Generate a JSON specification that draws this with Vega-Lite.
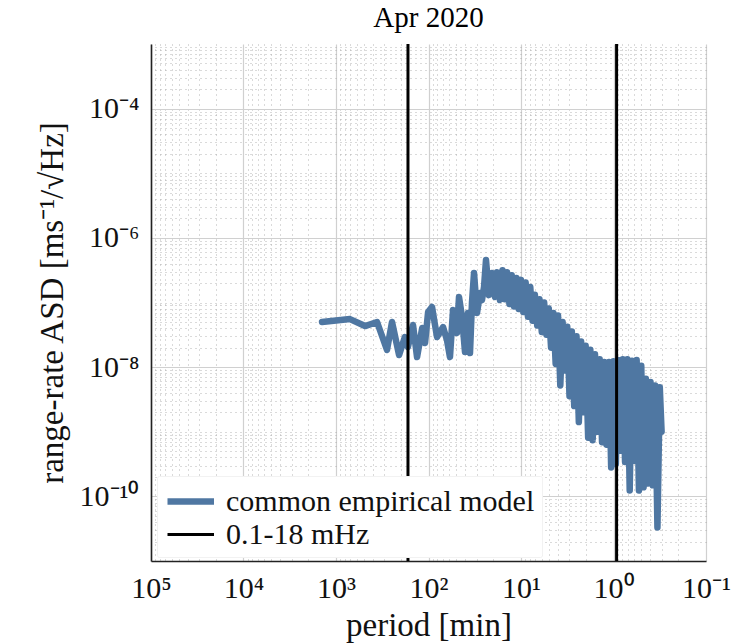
{
  "$schema": "https://vega.github.io/schema/vega-lite/v6.json",
  "width": 555,
  "height": 517,
  "autosize": {"type": "none"},
  "padding": {"left": 151, "top": 44, "right": 49, "bottom": 82},
  "background": "white",
  "title": {"text": "Apr 2020", "fontSize": 29, "font": "Liberation Serif", "fontWeight": "normal", "offset": 10, "color": "#000"},
  "datasets": {
    "model": [
      {"period": 1416, "asd": 4.99e-8, "series": "common empirical model"},
      {"period": 706, "asd": 5.54e-8, "series": "common empirical model"},
      {"period": 485, "asd": 4.32e-8, "series": "common empirical model"},
      {"period": 360, "asd": 4.99e-8, "series": "common empirical model"},
      {"period": 281, "asd": 1.84e-8, "series": "common empirical model"},
      {"period": 248, "asd": 4.99e-8, "series": "common empirical model"},
      {"period": 208, "asd": 1.54e-8, "series": "common empirical model"},
      {"period": 180, "asd": 2.92e-8, "series": "common empirical model"},
      {"period": 167, "asd": 2.04e-8, "series": "common empirical model"},
      {"period": 147, "asd": 4.48e-8, "series": "common empirical model"},
      {"period": 133, "asd": 1.43e-8, "series": "common empirical model"},
      {"period": 117, "asd": 4.03e-8, "series": "common empirical model"},
      {"period": 109, "asd": 2.36e-8, "series": "common empirical model"},
      {"period": 101, "asd": 7.1e-8, "series": "common empirical model"},
      {"period": 91.6, "asd": 8.5e-8, "series": "common empirical model"},
      {"period": 80.9, "asd": 2.92e-8, "series": "common empirical model"},
      {"period": 69.7, "asd": 4.17e-8, "series": "common empirical model"},
      {"period": 63.1, "asd": 2.62e-8, "series": "common empirical model"},
      {"period": 58.6, "asd": 1.43e-8, "series": "common empirical model"},
      {"period": 54.3, "asd": 7.65e-8, "series": "common empirical model"},
      {"period": 49.2, "asd": 3.37e-8, "series": "common empirical model"},
      {"period": 46.8, "asd": 1.22e-7, "series": "common empirical model"},
      {"period": 43.4, "asd": 5.95e-8, "series": "common empirical model"},
      {"period": 40.3, "asd": 1.71e-8, "series": "common empirical model"},
      {"period": 37.4, "asd": 6.88e-8, "series": "common empirical model"},
      {"period": 35.6, "asd": 1.65e-8, "series": "common empirical model"},
      {"period": 33.9, "asd": 9.8e-8, "series": "common empirical model"},
      {"period": 32.2, "asd": 2.87e-7, "series": "common empirical model"},
      {"period": 29.9, "asd": 6.88e-8, "series": "common empirical model"},
      {"period": 27.7, "asd": 1.4e-7, "series": "common empirical model"},
      {"period": 26.4, "asd": 1.09e-7, "series": "common empirical model"},
      {"period": 25.1, "asd": 1.74e-7, "series": "common empirical model"},
      {"period": 23.9, "asd": 4.56e-7, "series": "common empirical model"},
      {"period": 22.2, "asd": 1.3e-7, "series": "common empirical model"},
      {"period": 20.6, "asd": 2.87e-7, "series": "common empirical model"},
      {"period": 19.1, "asd": 1.22e-7, "series": "common empirical model"},
      {"period": 18.2, "asd": 2.95e-7, "series": "common empirical model"},
      {"period": 16.9, "asd": 1.09e-7, "series": "common empirical model"},
      {"period": 15.85, "asd": 3.16e-7, "series": "common empirical model"},
      {"period": 14.96, "asd": 1.12e-7, "series": "common empirical model"},
      {"period": 14.13, "asd": 2.95e-7, "series": "common empirical model"},
      {"period": 13.34, "asd": 9.5e-8, "series": "common empirical model"},
      {"period": 12.59, "asd": 2.63e-7, "series": "common empirical model"},
      {"period": 11.89, "asd": 8.7e-8, "series": "common empirical model"},
      {"period": 11.22, "asd": 2.4e-7, "series": "common empirical model"},
      {"period": 10.59, "asd": 7.9e-8, "series": "common empirical model"},
      {"period": 10.0, "asd": 2.24e-7, "series": "common empirical model"},
      {"period": 9.44, "asd": 7.1e-8, "series": "common empirical model"},
      {"period": 8.91, "asd": 2.04e-7, "series": "common empirical model"},
      {"period": 8.41, "asd": 6.0e-8, "series": "common empirical model"},
      {"period": 7.94, "asd": 1.74e-7, "series": "common empirical model"},
      {"period": 7.5, "asd": 5.2e-8, "series": "common empirical model"},
      {"period": 7.08, "asd": 1.32e-7, "series": "common empirical model"},
      {"period": 6.68, "asd": 4.4e-8, "series": "common empirical model"},
      {"period": 6.31, "asd": 1.12e-7, "series": "common empirical model"},
      {"period": 5.96, "asd": 3.5e-8, "series": "common empirical model"},
      {"period": 5.62, "asd": 1.0e-7, "series": "common empirical model"},
      {"period": 5.31, "asd": 3.16e-8, "series": "common empirical model"},
      {"period": 5.01, "asd": 8.1e-8, "series": "common empirical model"},
      {"period": 4.73, "asd": 2.0e-8, "series": "common empirical model"},
      {"period": 4.47, "asd": 6.9e-8, "series": "common empirical model"},
      {"period": 4.22, "asd": 1.12e-8, "series": "common empirical model"},
      {"period": 3.98, "asd": 6.3e-8, "series": "common empirical model"},
      {"period": 3.76, "asd": 5.2e-9, "series": "common empirical model"},
      {"period": 3.55, "asd": 5.0e-8, "series": "common empirical model"},
      {"period": 3.35, "asd": 8.9e-9, "series": "common empirical model"},
      {"period": 3.16, "asd": 4.2e-8, "series": "common empirical model"},
      {"period": 2.99, "asd": 3.55e-9, "series": "common empirical model"},
      {"period": 2.82, "asd": 3.55e-8, "series": "common empirical model"},
      {"period": 2.66, "asd": 2.5e-9, "series": "common empirical model"},
      {"period": 2.51, "asd": 3.0e-8, "series": "common empirical model"},
      {"period": 2.37, "asd": 1.41e-9, "series": "common empirical model"},
      {"period": 2.24, "asd": 2.5e-8, "series": "common empirical model"},
      {"period": 2.11, "asd": 2.0e-9, "series": "common empirical model"},
      {"period": 2.0, "asd": 2.14e-8, "series": "common empirical model"},
      {"period": 1.88, "asd": 8.1e-10, "series": "common empirical model"},
      {"period": 1.78, "asd": 1.86e-8, "series": "common empirical model"},
      {"period": 1.68, "asd": 7.4e-10, "series": "common empirical model"},
      {"period": 1.585, "asd": 1.58e-8, "series": "common empirical model"},
      {"period": 1.5, "asd": 1.0e-9, "series": "common empirical model"},
      {"period": 1.41, "asd": 1.32e-8, "series": "common empirical model"},
      {"period": 1.33, "asd": 6.9e-10, "series": "common empirical model"},
      {"period": 1.26, "asd": 1.2e-8, "series": "common empirical model"},
      {"period": 1.19, "asd": 6.3e-10, "series": "common empirical model"},
      {"period": 1.12, "asd": 1.2e-8, "series": "common empirical model"},
      {"period": 1.06, "asd": 2.8e-10, "series": "common empirical model"},
      {"period": 1.0, "asd": 1.23e-8, "series": "common empirical model"},
      {"period": 0.944, "asd": 3.16e-10, "series": "common empirical model"},
      {"period": 0.891, "asd": 1.29e-8, "series": "common empirical model"},
      {"period": 0.841, "asd": 5.1e-10, "series": "common empirical model"},
      {"period": 0.794, "asd": 1.32e-8, "series": "common empirical model"},
      {"period": 0.75, "asd": 3.4e-10, "series": "common empirical model"},
      {"period": 0.708, "asd": 1.32e-8, "series": "common empirical model"},
      {"period": 0.668, "asd": 1.23e-10, "series": "common empirical model"},
      {"period": 0.631, "asd": 1.26e-8, "series": "common empirical model"},
      {"period": 0.596, "asd": 3.55e-10, "series": "common empirical model"},
      {"period": 0.562, "asd": 1.29e-8, "series": "common empirical model"},
      {"period": 0.531, "asd": 1.23e-10, "series": "common empirical model"},
      {"period": 0.501, "asd": 1.05e-8, "series": "common empirical model"},
      {"period": 0.473, "asd": 1.38e-10, "series": "common empirical model"},
      {"period": 0.447, "asd": 6.6e-9, "series": "common empirical model"},
      {"period": 0.422, "asd": 1.58e-10, "series": "common empirical model"},
      {"period": 0.398, "asd": 5.9e-9, "series": "common empirical model"},
      {"period": 0.376, "asd": 1.48e-10, "series": "common empirical model"},
      {"period": 0.355, "asd": 5.2e-9, "series": "common empirical model"},
      {"period": 0.335, "asd": 3.3e-11, "series": "common empirical model"},
      {"period": 0.316, "asd": 4.9e-9, "series": "common empirical model"},
      {"period": 0.302, "asd": 1.0e-9, "series": "common empirical model"}
    ],
    "band": [
      {"period": 166.67, "series": "0.1-18 mHz"},
      {"period": 0.9259, "series": "0.1-18 mHz"}
    ]
  },
  "layer": [
    {
      "data": {"name": "model"},
      "mark": {"type": "line", "opacity": 0},
      "encoding": {
        "x": {"field": "period", "type": "quantitative",
          "scale": {"type": "log", "domain": [0.1, 100000], "reverse": true, "nice": false},
          "axis": {"orient": "bottom", "values": [0.2,0.3,0.4,0.5,0.6,0.7,0.8,0.9,2,3,4,5,6,7,8,9,20,30,40,50,60,70,80,90,200,300,400,500,600,700,800,900,2000,3000,4000,5000,6000,7000,8000,9000,20000,30000,40000,50000,60000,70000,80000,90000],
            "labels": false, "ticks": false, "domain": false, "title": null, "grid": true, "gridColor": "#a8a8a8", "gridDash": [1, 4], "gridWidth": 1, "gridOpacity": 0.85}},
        "y": {"field": "asd", "type": "quantitative",
          "scale": {"type": "log", "domain": [1e-11, 1e-3], "nice": false},
          "axis": {"orient": "left", "values": [2e-11,3e-11,4e-11,5e-11,6e-11,7e-11,8e-11,9e-11,2e-10,3e-10,4e-10,5e-10,6e-10,7e-10,8e-10,9e-10,1e-9,2e-9,3e-9,4e-9,5e-9,6e-9,7e-9,8e-9,9e-9,2e-8,3e-8,4e-8,5e-8,6e-8,7e-8,8e-8,9e-8,1e-7,2e-7,3e-7,4e-7,5e-7,6e-7,7e-7,8e-7,9e-7,2e-6,3e-6,4e-6,5e-6,6e-6,7e-6,8e-6,9e-6,1e-5,2e-5,3e-5,4e-5,5e-5,6e-5,7e-5,8e-5,9e-5,2e-4,3e-4,4e-4,5e-4,6e-4,7e-4,8e-4,9e-4],
            "labels": false, "ticks": false, "domain": false, "title": null, "grid": true, "gridColor": "#a8a8a8", "gridDash": [1, 4], "gridWidth": 1, "gridOpacity": 0.85}}
      }
    },
    {
      "data": {"name": "model"},
      "mark": {"type": "line", "strokeJoin": "round", "strokeCap": "round"},
      "encoding": {
        "x": {"field": "period", "type": "quantitative",
          "scale": {"type": "log", "domain": [0.1, 100000], "reverse": true, "nice": false},
          "axis": {"orient": "bottom", "values": [0.1, 1, 10, 100, 1000, 10000, 100000],
            "labelExpr": "datum.value >= 99999 ? '10⁵' : datum.value >= 9999 ? '10⁴' : datum.value >= 999 ? '10³' : datum.value >= 99 ? '10²' : datum.value >= 9 ? '10¹' : datum.value >= 0.9 ? '10⁰' : '10⁻¹'",
            "title": "period [min]", "grid": true, "gridColor": "#d0d0d0", "gridWidth": 1.2,
            "domain": true, "domainColor": "#222", "domainWidth": 1.6, "ticks": false,
            "labelFontSize": 30, "labelPadding": 12, "labelColor": "#111", "labelFont": "Liberation Serif",
            "titleFontSize": 33, "titleFont": "Liberation Serif", "titleFontWeight": "normal", "titleColor": "#111", "titlePadding": 6, "labelFlush": false}},
        "y": {"field": "asd", "type": "quantitative",
          "scale": {"type": "log", "domain": [1e-11, 1e-3], "nice": false},
          "axis": {"orient": "left", "values": [1e-10, 1e-8, 1e-6, 1e-4],
            "labelExpr": "datum.value < 1e-9 ? '10⁻¹⁰' : datum.value < 1e-7 ? '10⁻⁸' : datum.value < 1e-5 ? '10⁻⁶' : '10⁻⁴'",
            "title": "range-rate ASD [ms⁻¹/√Hz]", "grid": true, "gridColor": "#d0d0d0", "gridWidth": 1.2,
            "domain": true, "domainColor": "#222", "domainWidth": 1.6, "ticks": false,
            "labelFontSize": 30, "labelPadding": 12, "labelColor": "#111", "labelFont": "Liberation Serif",
            "titleFontSize": 33, "titleFont": "Liberation Serif", "titleFontWeight": "normal", "titleColor": "#111", "titlePadding": 10}},
        "color": {"field": "series", "type": "nominal",
          "scale": {"domain": ["common empirical model", "0.1-18 mHz"], "range": ["#4f77a2", "#000000"]},
          "legend": {"title": null, "orient": "none", "legendX": 6, "legendY": 432, "symbolType": "M -1 0 L 2.1 0", "symbolSize": 900,
            "labelFontSize": 30, "labelFont": "Liberation Serif", "labelColor": "#111", "labelOffset": 25, "rowPadding": 1,
            "fillColor": "white", "padding": 7, "cornerRadius": 2, "strokeColor": "#f2f2f2", "labelLimit": 500}},
        "strokeWidth": {"field": "series", "type": "nominal",
          "scale": {"domain": ["common empirical model", "0.1-18 mHz"], "range": [6.5, 3]},
          "legend": {"title": null, "orient": "none", "legendX": 6, "legendY": 432, "symbolType": "M -1 0 L 2.1 0", "symbolSize": 900,
            "labelFontSize": 30, "labelFont": "Liberation Serif", "labelColor": "#111", "labelOffset": 25, "rowPadding": 1,
            "fillColor": "white", "padding": 7, "cornerRadius": 2, "strokeColor": "#f2f2f2", "labelLimit": 500}}
      }
    },
    {
      "data": {"name": "band"},
      "mark": {"type": "rule"},
      "encoding": {
        "x": {"field": "period", "type": "quantitative",
          "scale": {"type": "log", "domain": [0.1, 100000], "reverse": true, "nice": false},
          "axis": null},
        "color": {"field": "series", "type": "nominal",
          "scale": {"domain": ["common empirical model", "0.1-18 mHz"], "range": ["#4f77a2", "#000000"]}},
        "strokeWidth": {"field": "series", "type": "nominal",
          "scale": {"domain": ["common empirical model", "0.1-18 mHz"], "range": [6.5, 3]}}
      }
    }
  ],
  "resolve": {"axis": {"x": "independent", "y": "independent"}},
  "config": {
    "font": "Liberation Serif",
    "view": {"stroke": null}
  }
}
